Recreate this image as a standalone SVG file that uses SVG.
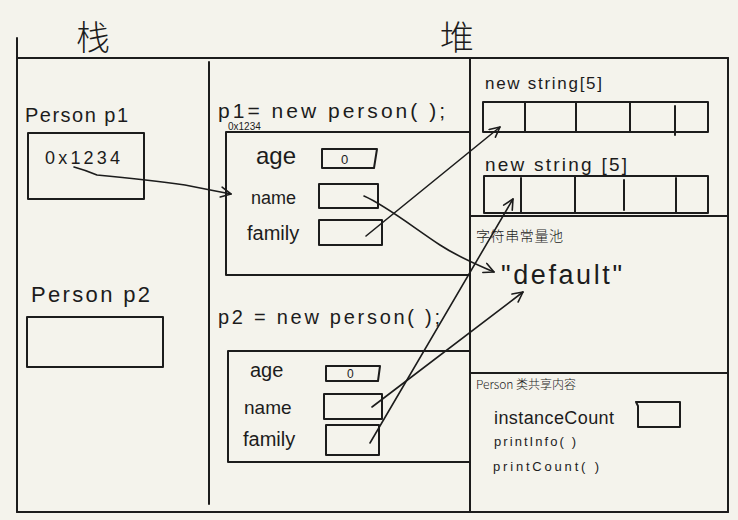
<svg xmlns="http://www.w3.org/2000/svg" width="738" height="520" viewBox="0 0 738 520">
<style>
.ln{fill:none;stroke:#1c1c1c;stroke-width:2;stroke-linecap:round;stroke-linejoin:round}
.c{fill:none;stroke:#1c1c1c;stroke-width:1.6;stroke-linecap:round}
.t{font-family:"Liberation Sans","Noto Sans",sans-serif;fill:#1c1c1c}
.cjk{font-family:"Noto Sans CJK SC",sans-serif;fill:#1c1c1c;font-weight:300}
</style>
<defs>
<marker id="ah" viewBox="0 0 12 12" refX="11" refY="6" markerWidth="12" markerHeight="12" markerUnits="userSpaceOnUse" orient="auto">
<polyline points="1,1 11,6 1,11" fill="none" stroke="#1c1c1c" stroke-width="1.6" stroke-linecap="round" stroke-linejoin="round"/>
</marker>
</defs>
<rect width="738" height="520" fill="#f4f3ec"/>
<g id="frame">
<line class="ln" x1="17" y1="38" x2="17" y2="512"/>
<line class="ln" x1="17" y1="58" x2="728" y2="58"/>
<line class="ln" x1="728" y1="58" x2="728" y2="512"/>
<line class="ln" x1="17" y1="512" x2="728" y2="512"/>
<line class="ln" x1="209" y1="62" x2="209" y2="504"/>
<line class="ln" x1="470" y1="58" x2="470" y2="512"/>
<line class="ln" x1="470" y1="216" x2="728" y2="216"/>
<line class="ln" x1="470" y1="373" x2="728" y2="373"/>
<text class="cjk" x="76" y="50" font-size="34">栈</text>
<text class="cjk" x="440" y="50" font-size="34">堆</text>
</g>
<g id="p1">
<text class="t" x="25" y="122" font-size="20" textLength="103" lengthAdjust="spacing">Person p1</text>
<rect class="ln" x="28" y="133" width="116" height="66"/>
<text class="t" x="45" y="164" font-size="18" textLength="75" lengthAdjust="spacing">0x1234</text>
</g>
<g id="p2">
<text class="t" x="31" y="302" font-size="22" textLength="119" lengthAdjust="spacing">Person p2</text>
<rect class="ln" x="27" y="317" width="136" height="50"/>
</g>
<g id="obj1">
<text class="t" x="218" y="118" font-size="21" textLength="227" lengthAdjust="spacing">p1= new person( );</text>
<text class="t" x="228" y="130" font-size="10">0x1234</text>
<rect class="ln" x="226" y="132" width="244" height="143"/>
<text class="t" x="256" y="164" font-size="24">age</text>
<polygon class="ln" points="322,149 377,149 374,168 322,168"/>
<text class="t" x="341" y="164" font-size="13">0</text>
<text class="t" x="251" y="204" font-size="18">name</text>
<rect class="ln" x="319" y="184" width="59" height="24"/>
<text class="t" x="247" y="240" font-size="20">family</text>
<rect class="ln" x="319" y="220" width="63" height="25"/>
</g>
<g id="obj2">
<text class="t" x="218" y="324" font-size="20" textLength="222" lengthAdjust="spacing">p2 = new person( );</text>
<rect class="ln" x="228" y="351" width="242" height="111"/>
<text class="t" x="250" y="377" font-size="20">age</text>
<polygon class="ln" points="326,366 380,366 378,381 326,381"/>
<text class="t" x="347" y="378" font-size="12">0</text>
<text class="t" x="244" y="414" font-size="19">name</text>
<rect class="ln" x="324" y="394" width="58" height="25"/>
<text class="t" x="243" y="446" font-size="20">family</text>
<rect class="ln" x="326" y="425" width="53" height="30"/>
</g>
<g id="arr1">
<text class="t" x="485" y="89" font-size="17" textLength="117" lengthAdjust="spacing">new string[5]</text>
<rect class="ln" x="483" y="102" width="225" height="30"/>
<line class="ln" x1="525" y1="103" x2="525" y2="131"/>
<line class="ln" x1="576" y1="103" x2="576" y2="131"/>
<line class="ln" x1="630" y1="103" x2="630" y2="131"/>
<line class="ln" x1="675" y1="106" x2="675" y2="135"/>
</g>
<g id="arr2">
<text class="t" x="485" y="171" font-size="19" textLength="142" lengthAdjust="spacing">new string [5]</text>
<rect class="ln" x="484" y="176" width="224" height="37"/>
<line class="ln" x1="521" y1="178" x2="521" y2="212"/>
<line class="ln" x1="575" y1="177" x2="575" y2="212"/>
<line class="ln" x1="624" y1="180" x2="624" y2="210"/>
<line class="ln" x1="676" y1="178" x2="676" y2="213"/>
</g>
<g id="pool">
<text class="cjk" x="476" y="241" font-size="14" textLength="87" lengthAdjust="spacing">字符串常量池</text>
<text class="t" x="501" y="284" font-size="27" textLength="121" lengthAdjust="spacing">"default"</text>
</g>
<g id="cls">
<text class="cjk" x="476" y="389" font-size="12">Person 类共享内容</text>
<text class="t" x="494" y="424" font-size="18" textLength="120" lengthAdjust="spacing">instanceCount</text>
<polygon class="ln" points="636,402 680,402 680,427 638,427 638,406"/>
<text class="t" x="494" y="446" font-size="13" textLength="82" lengthAdjust="spacing">printInfo( )</text>
<text class="t" x="493" y="471" font-size="13" textLength="106" lengthAdjust="spacing">printCount( )</text>
</g>
<g id="connectors">
<path class="c" d="M74,167 Q85,170 97,175 Q150,180 185,185 Q210,190 231,194" marker-end="url(#ah)"/>
<path class="c" d="M366,236 L500,127" marker-end="url(#ah)"/>
<path class="c" d="M364,196 C385,205 410,225 440,245 C460,258 478,265 494,272" marker-end="url(#ah)"/>
<path class="c" d="M372,407 L523,292" marker-end="url(#ah)"/>
<path class="c" d="M370,443 L513,199" marker-end="url(#ah)"/>
</g>
</svg>
